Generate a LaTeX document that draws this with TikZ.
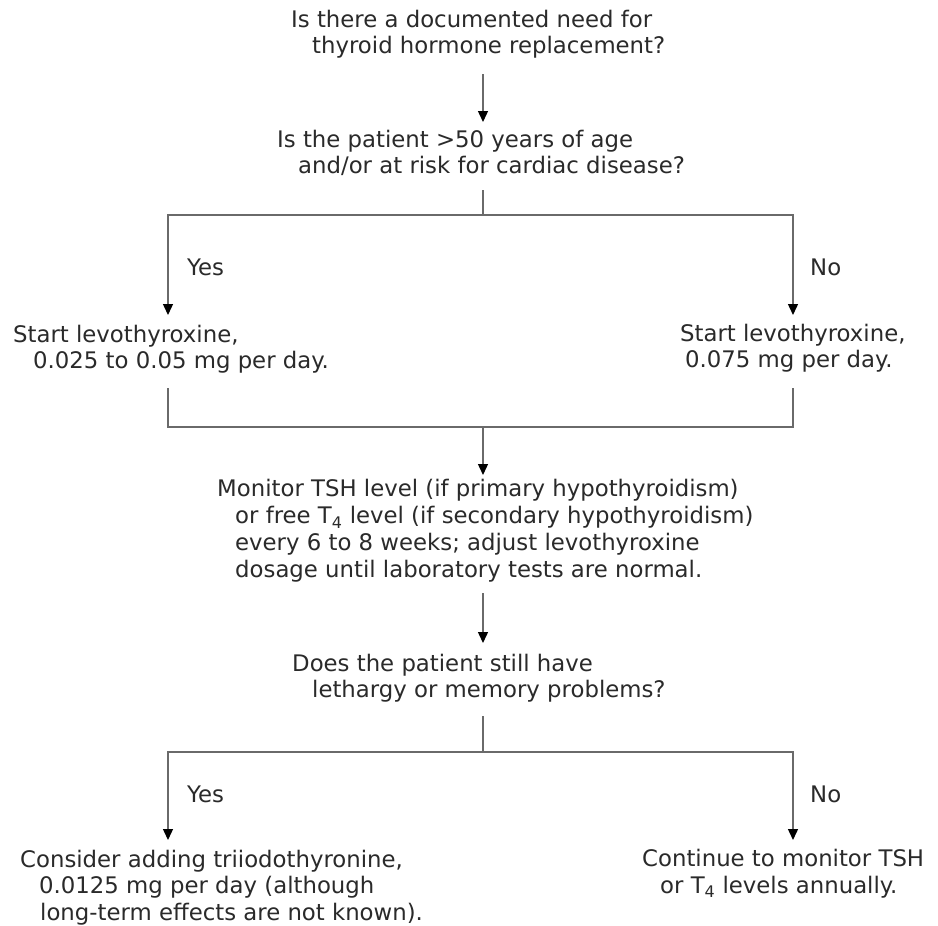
\documentclass[tikz,border=0pt]{standalone}
\usepackage{fontspec}
\setmainfont{DejaVu Sans}
\usetikzlibrary{arrows.meta}
\definecolor{txt}{HTML}{2A2A2A}
\definecolor{lin}{HTML}{6A6A6A}
\begin{document}
\begin{tikzpicture}[x=1pt,y=-1pt,
  txtbox/.style={anchor=base west,inner sep=0pt,align=left,text=txt,font=\fontsize{22.8}{25.5}\selectfont},
  ln/.style={draw=lin,line width=1.4pt},
  arr/.style={ln,-{Triangle[width=10pt,length=11pt,color=black]}}]
\path[use as bounding box,fill=white] (0,0) rectangle (938,926);
\coordinate (cx) at (483,0);
\coordinate (lx) at (168,0);
\coordinate (rx) at (793,0);
% nodes (anchored at the baseline of their last line)
\node[txtbox] (q1) at (291,53) {Is there a documented need for\\\hspace*{21pt}thyroid hormone replacement?};
\node[txtbox] (q2) at (277,173) {Is the patient >50 years of age\\\hspace*{21pt}and/or at risk for cardiac disease?};
\node[txtbox] (yes1) at (187,275) {Yes};
\node[txtbox] (no1) at (810,275) {No};
\node[txtbox] (sl) at (13,368) {Start levothyroxine,\\\hspace*{20pt}0.025 to 0.05 mg per day.};
\node[txtbox] (sr) at (680,367) {Start levothyroxine,\\\hspace*{5pt}0.075 mg per day.};
\node[txtbox,font=\fontsize{22.8}{26.7}\selectfont] (mon) at (217,577) {Monitor TSH level (if primary hypothyroidism)\\\hspace*{18pt}or free T\textsubscript{4} level (if secondary hypothyroidism)\\\hspace*{18pt}every 6 to 8 weeks; adjust levothyroxine\\\hspace*{18pt}dosage until laboratory tests are normal.};
\node[txtbox] (q3) at (292,697) {Does the patient still have\\\hspace*{20pt}lethargy or memory problems?};
\node[txtbox] (yes2) at (187,802) {Yes};
\node[txtbox] (no2) at (810,802) {No};
\node[txtbox,font=\fontsize{22.8}{26.5}\selectfont] (con) at (20,920) {Consider adding triiodothyronine,\\\hspace*{19pt}0.0125 mg per day (although\\\hspace*{20pt}long-term effects are not known).};
\node[txtbox,font=\fontsize{22.8}{26.5}\selectfont] (cnt) at (642,893) {Continue to monitor TSH\\\hspace*{18pt}or T\textsubscript{4} levels annually.};
% junctions
\coordinate (j1) at ([yshift=-42pt]q2.base -| cx);
\coordinate (j2) at ([yshift=-59pt]sl.base -| cx);
\coordinate (j3) at ([yshift=-55pt]q3.base -| cx);
% connectors
\draw[arr] ([yshift=-21pt]q1.base -| cx) -- ([yshift=51pt]q2.base -| cx);
\draw[ln] ([yshift=-17pt]q2.base -| cx) -- (j1);
\draw[arr] (j1) -| ([yshift=53pt]sl.base -| lx);
\draw[arr] (j1) -| ([yshift=52pt]sr.base -| rx);
\draw[ln] ([yshift=-20pt]sl.base -| lx) |- (j2);
\draw[ln] ([yshift=-21pt]sr.base -| rx) |- (j2);
\draw[arr] (j2) -- ([yshift=102pt]mon.base -| cx);
\draw[arr] ([yshift=-16pt]mon.base -| cx) -- ([yshift=54pt]q3.base -| cx);
\draw[ln] ([yshift=-19pt]q3.base -| cx) -- (j3);
\draw[arr] (j3) -| ([yshift=80pt]con.base -| lx);
\draw[arr] (j3) -| ([yshift=53pt]cnt.base -| rx);
\end{tikzpicture}
\end{document}
